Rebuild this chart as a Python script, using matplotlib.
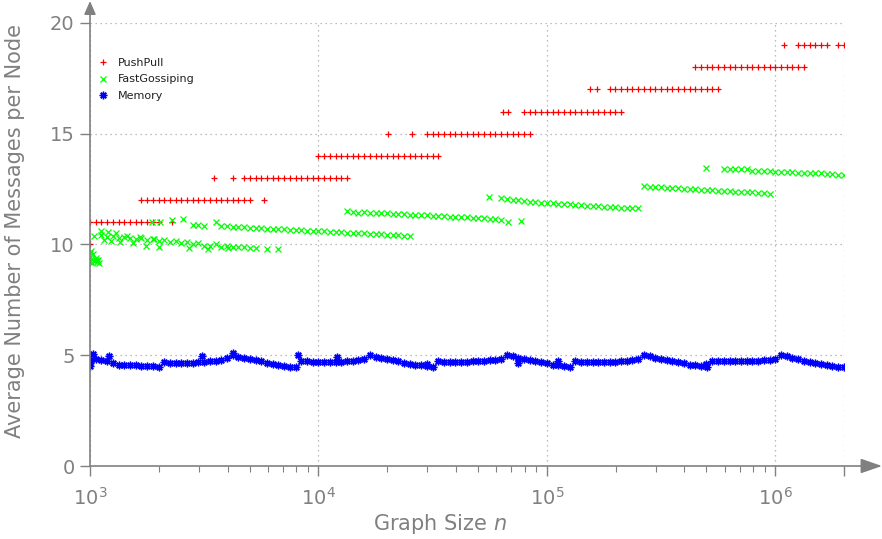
import numpy as np
import matplotlib
matplotlib.use("Agg")
import matplotlib.pyplot as plt
from matplotlib.ticker import FixedLocator, FixedFormatter

# graph sizes used in the experiment (40 per decade, up to 2e6)
mantissa = [1.000, 1.059, 1.122, 1.189, 1.259, 1.334, 1.413, 1.496, 1.585, 1.679,
            1.778, 1.884, 1.995, 2.113, 2.239, 2.371, 2.512, 2.661, 2.818, 2.985,
            3.162, 3.350, 3.548, 3.758, 3.981, 4.217, 4.467, 4.732, 5.012, 5.309,
            5.623, 5.957, 6.310, 6.683, 7.079, 7.499, 7.943, 8.414, 8.913, 9.441]
sizes = np.array([round(m * 10**d) for d in (3, 4, 5, 6) for m in mantissa])
sizes = sizes[sizes <= 2000000]

nan = np.nan

# Memory: one value per graph size
memory = [4.65, 4.82, 4.80, 4.74, 4.66, 4.58, 4.56, 4.55, 4.54, 4.53, 4.52, 4.50, 4.48,
          4.68, 4.67, 4.66, 4.66, 4.66, 4.67, 4.68, 4.70, 4.73, 4.76, 4.80, 4.86,
          5.00, 4.94, 4.88, 4.82, 4.77, 4.72, 4.67, 4.62, 4.57, 4.53, 4.49, 4.45,
          4.75, 4.72, 4.70, 4.69, 4.69, 4.69, 4.70, 4.71, 4.73, 4.76, 4.80, 4.85,
          5.00, 4.93, 4.87, 4.82, 4.77, 4.72, 4.67, 4.62, 4.58, 4.54, 4.51, 4.48,
          4.72, 4.71, 4.70, 4.70, 4.70, 4.71, 4.72, 4.73, 4.75, 4.77, 4.80, 4.84,
          5.02, 4.95, 4.89, 4.83, 4.78, 4.73, 4.68, 4.63, 4.58, 4.54, 4.50, 4.46,
          4.72, 4.71, 4.70, 4.69, 4.69, 4.69, 4.70, 4.71, 4.73, 4.75, 4.78, 4.82,
          5.02, 4.95, 4.89, 4.83, 4.78, 4.73, 4.68, 4.63, 4.58, 4.54, 4.50, 4.46,
          4.74, 4.73, 4.73, 4.73, 4.73, 4.73, 4.74, 4.75, 4.76, 4.77, 4.79, 4.82,
          5.02, 4.95, 4.88, 4.82, 4.76, 4.71, 4.66, 4.61, 4.56, 4.52, 4.48, 4.47]
memory_extra_n = [1000, 1000, 1030, 1210, 3090, 4220, 8100, 12100, 30000, 75000, 112000, 500000]
memory_extra_y = [4.50, 4.80, 5.05, 4.97, 4.98, 5.12, 5.00, 4.93, 4.60, 4.65, 4.72, 4.60]

# FastGossiping: lower band and (where two runs overlap) upper band, per graph size
fast_main = [9.60, 9.30, 10.45, 10.35, 10.40, 10.30, 10.35, 10.30, 10.25, 10.30,
             10.20, 10.25, 10.15, 10.20, 10.10, 10.15, 10.05, 10.10, 10.00, 10.05,
             9.95, 9.95, 10.00, 9.90, 9.95, 9.90, 9.88, 9.90, 9.85, 9.82,
             nan, 9.80, nan, 9.80, 10.68, 10.67, 10.66, 10.64, 10.63, 10.62,
             10.60, 10.59, 10.58, 10.56, 10.55, 10.54, 10.52, 10.51, 10.50, 10.48,
             10.47, 10.46, 10.44, 10.43, 10.42, 10.40, 10.39, 11.34, 11.33, 11.31,
             11.30, 11.29, 11.28, 11.26, 11.25, 11.24, 11.22, 11.21, 11.19, 11.18,
             11.16, 11.14, 11.12, 12.06, 12.02, 11.99, 11.96, 11.93, 11.90, 11.89,
             11.87, 11.86, 11.84, 11.83, 11.81, 11.79, 11.78, 11.76, 11.74, 11.72,
             11.70, 11.69, 11.68, 11.67, 11.66, 11.65, 11.64, 12.63, 12.61, 12.59,
             12.58, 12.57, 12.55, 12.54, 12.52, 12.51, 12.49, 12.48, 12.46, 12.45,
             12.43, 12.42, 12.40, 12.39, 12.38, 12.36, 12.35, 12.33, 12.32, 12.30,
             13.29, 13.28, 13.27, 13.26, 13.25, 13.24, 13.23, 13.22, 13.21, 13.20,
             13.19, 13.16, 13.15]
fast_upper = [nan] * 18 + [10.90, 10.88, 10.85, nan, 11.00, 10.83, 10.82, 10.80, 10.79,
              10.78, 10.76, 10.75, 10.74, 10.72, 10.71, 10.70] + [nan] * 11 + \
             [11.50, 11.45, 11.42, 11.46, 11.40, 11.42, 11.40, 11.41, 11.38, 11.37,
              11.36, 11.35] + [nan] * 15 + [12.12] + [nan] * 38 + \
             [13.42, 13.41, 13.40, 13.40, 13.39, 13.33, 13.32, 13.31, 13.30] + [nan] * 13
fast_extra_n = [1000, 1000, 1010, 1015, 1025, 1035, 1045, 1060, 1075, 1085, 1095, 1040,
                1120, 1150, 1200, 1230, 1300, 1350, 1450, 1550, 1650, 1750, 1900, 2000,
                1860, 2020, 2280, 2560, 2700, 3300, 4000,
                55600, 67300, 76700, 499000]
fast_extra_y = [9.20, 9.45, 9.70, 9.35, 9.15, 9.55, 9.25, 9.40, 9.20, 9.30, 9.15, 10.38,
                10.60, 10.20, 10.55, 10.15, 10.50, 10.10, 10.40, 10.05, 10.35, 9.95, 10.25, 9.90,
                11.00, 11.00, 11.10, 11.15, 9.85, 9.80, 9.85,
                12.15, 11.00, 11.05, 13.45]

# PushPull: runs of constant value over ranges of graph sizes, plus single points
push_level = [11, 12, 13, 14, 15, 16, 17, 18, 19, 19]
push_from = [1000, 1640, 4530, 10000, 28600, 75100, 179000, 437000, 1220000, 1850000]
push_to = [2090, 5160, 13800, 33900, 86500, 223000, 569000, 1410000, 1770000, 2000000]
push_extra_n = [1000, 2280, 5770, 3480, 4220, 20100, 25600, 64600, 67900, 154000, 166000, 1090000]
push_extra_y = [10, 11, 12, 13, 13, 15, 15, 16, 16, 17, 17, 19]

gray = "#808080"
plt.rcParams["font.family"] = ["DejaVu Sans"]
fig = plt.figure(figsize=(8.82, 5.39), dpi=100)
ax = fig.add_axes([90 / 882, 73 / 539, 754 / 882, 443 / 539])

red, green, blue = "#ff0000", "#00ff00", "#0000ff"
pp_n = np.concatenate([sizes[(sizes >= a) & (sizes <= b)] for a, b in zip(push_from, push_to)] + [push_extra_n])
pp_y = np.concatenate([np.full(((sizes >= a) & (sizes <= b)).sum(), v)
                       for v, a, b in zip(push_level, push_from, push_to)] + [push_extra_y])
fg_n = np.concatenate([sizes, sizes, fast_extra_n])
fg_y = np.concatenate([fast_main, fast_upper, fast_extra_y])
mem_n = np.concatenate([sizes, memory_extra_n])
mem_y = np.concatenate([memory, memory_extra_y])

ax.plot(pp_n, pp_y, ls="none", marker="+", ms=5, mew=0.9, color=red, label="PushPull")
ax.plot(fg_n, fg_y, ls="none", marker="x", ms=3.8, mew=0.9, color=green, label="FastGossiping")
ax.plot(mem_n, mem_y, ls="none", marker=(8, 2, 0), ms=5.5, mew=1.0, color=blue, label="Memory")

ax.set_xscale("log")
ax.set_xlim(1000, 2000000)
ax.set_ylim(0, 20)

major = [1e3, 1e4, 1e5, 1e6, 2e6]
ax.xaxis.set_major_locator(FixedLocator(major))
ax.xaxis.set_major_formatter(FixedFormatter([r"$\mathdefault{10^{3}}$", r"$\mathdefault{10^{4}}$",
                                             r"$\mathdefault{10^{5}}$", r"$\mathdefault{10^{6}}$", ""]))
minor = [m * 10**d for d in (3, 4, 5) for m in range(2, 10)]
ax.xaxis.set_minor_locator(FixedLocator(minor))
ax.xaxis.set_minor_formatter(FixedFormatter([""] * len(minor)))
ax.set_yticks([0, 5, 10, 15, 20])

ax.tick_params(axis="both", which="major", direction="out", length=7, width=1, color=gray,
               labelcolor=gray, labelsize=14, pad=4)
ax.tick_params(axis="x", which="minor", direction="out", length=4, width=0.8, color=gray)
ax.tick_params(axis="x", which="major", pad=8)

ax.grid(True, which="major", color="#a8a8a8", lw=0.9, ls=(0, (1, 3)))
for s in ax.spines.values():
    s.set_visible(False)

ax.annotate("", xy=(1.0504, 0), xytext=(0, 0), xycoords="axes fraction",
            arrowprops=dict(arrowstyle="-|>,head_length=1.3,head_width=0.45", color=gray,
                            lw=1.2, mutation_scale=10, shrinkA=0, shrinkB=0), annotation_clip=False)
ax.annotate("", xy=(0, 1.0497), xytext=(0, 0), xycoords="axes fraction",
            arrowprops=dict(arrowstyle="-|>,head_length=0.8,head_width=0.35", color=gray,
                            lw=1.2, mutation_scale=10, shrinkA=0, shrinkB=0), annotation_clip=False)

ax.set_xlabel("Graph Size $n$", color=gray, fontsize=15, ha="center", va="center")
ax.set_ylabel("Average Number of Messages per Node", color=gray, fontsize=15, ha="center", va="center")
ax.xaxis.set_label_coords(0.464, -0.131)
ax.yaxis.set_label_coords(-0.100, 0.53)

leg = ax.legend(loc="upper left", bbox_to_anchor=(0.012, 0.921), frameon=False, fontsize=8,
                handlelength=0.8, handletextpad=0.9, labelspacing=0.58, borderpad=0, borderaxespad=0,
                markerscale=1.0)
for t in leg.get_texts():
    t.set_color("#202020")

fig.savefig("out.png", dpi=100)
